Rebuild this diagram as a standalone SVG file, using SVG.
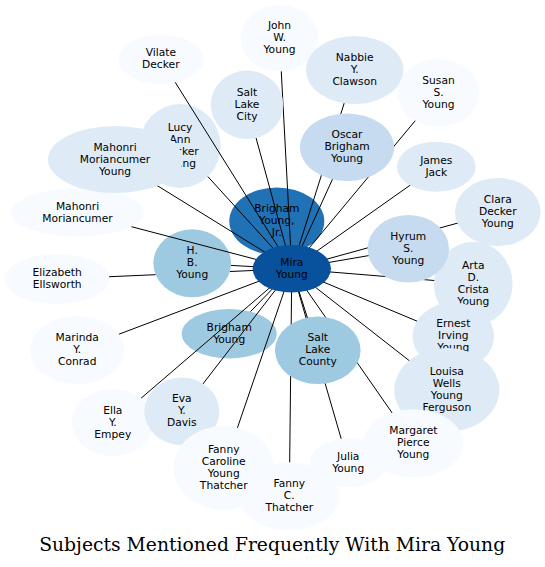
<svg xmlns="http://www.w3.org/2000/svg" width="545" height="567" viewBox="0 0 545 567">
<style>
  .n text { font-family: "DejaVu Sans", "Liberation Sans", sans-serif; font-size: 10.7px; text-anchor: middle; fill: #000; }
  .n ellipse { stroke: none; }
  .c0 { fill: #f7fbff; } .c1 { fill: #deebf7; } .c2 { fill: #c6dbef; }
  .c3 { fill: #9ecae1; } .c4 { fill: #2171b5; } .c5 { fill: #08519c; }
  #connectors path { stroke: #000; stroke-width: 1; fill: none; }
  .title { font-family: "DejaVu Serif", "Liberation Serif", serif; font-size: 18.5px; text-anchor: middle; fill: #000; }
</style>
<rect width="545" height="567" fill="#fff"/>

<!-- nodes drawn beneath the connectors -->
<g id="lucy" class="n"><ellipse class="c1" cx="180" cy="146" rx="40.7" ry="42"/><text x="180" y="131"><tspan x="180">Lucy</tspan><tspan x="180" dy="12">Ann</tspan><tspan x="180" dy="12">Decker</tspan><tspan x="180" dy="12">Young</tspan></text></g>
<g id="hb" class="n"><ellipse class="c3" cx="192.2" cy="263.3" rx="38.8" ry="34"/><text x="192.2" y="254.3"><tspan x="192.2">H.</tspan><tspan x="192.2" dy="12">B.</tspan><tspan x="192.2" dy="12">Young</tspan></text></g>
<g id="bj" class="n"><ellipse class="c4" cx="276.8" cy="221.2" rx="47.5" ry="33.8"/><text x="276.8" y="212.2"><tspan x="276.8">Brigham</tspan><tspan x="276.8" dy="12">Young,</tspan><tspan x="276.8" dy="12">Jr.</tspan></text></g>
<g id="by" class="n"><ellipse class="c3" cx="229.2" cy="333.7" rx="47.5" ry="24.7"/><text x="229.2" y="330.7"><tspan x="229.2">Brigham</tspan><tspan x="229.2" dy="12">Young</tspan></text></g>

<g id="connectors">
  <path d="M279.5,38.3 L291.8,268.8"/>
  <path d="M160.8,59.2 L291.8,268.8"/>
  <path d="M354.7,70 L291.8,268.8"/>
  <path d="M438.5,92.8 L291.8,268.8"/>
  <path d="M247,104.8 L291.8,268.8"/>
  <path d="M207.9,176.6 L291.8,268.8"/>
  <path d="M115,159.5 L291.8,268.8"/>
  <path d="M347,147.2 L291.8,268.8"/>
  <path d="M436.3,166.7 L291.8,268.8"/>
  <path d="M497.8,212 L291.8,268.8"/>
  <path d="M287.2,254.2 L291.8,268.8"/>
  <path d="M77.5,212.5 L291.8,268.8"/>
  <path d="M230.9,265.4 L291.8,268.8"/>
  <path d="M408.3,248.8 L291.8,268.8"/>
  <path d="M57.2,279 L155.6,274.7 M229.9,271.5 L291.8,268.8"/>
  <path d="M473.3,283.7 L291.8,268.8"/>
  <path d="M77.2,350 L291.8,268.8"/>
  <path d="M250.5,311.6 L291.8,268.8"/>
  <path d="M317.8,350.3 L291.8,268.8"/>
  <path d="M453.3,336.3 L291.8,268.8"/>
  <path d="M446.8,390 L291.8,268.8"/>
  <path d="M413.3,443.3 L291.8,268.8"/>
  <path d="M348.2,462.8 L291.8,268.8"/>
  <path d="M112.8,422.5 L291.8,268.8"/>
  <path d="M181.8,411.3 L291.8,268.8"/>
  <path d="M223.7,468 L291.8,268.8"/>
  <path d="M289.3,496.3 L291.8,268.8"/>
</g>

<g id="john" class="n"><ellipse class="c0" cx="279.5" cy="38.3" rx="38.8" ry="33.3"/><text x="279.5" y="29.3"><tspan x="279.5">John</tspan><tspan x="279.5" dy="12">W.</tspan><tspan x="279.5" dy="12">Young</tspan></text></g>
<g id="vilate" class="n"><ellipse class="c0" cx="160.8" cy="59.2" rx="42.5" ry="24.8"/><text x="160.8" y="56.2"><tspan x="160.8">Vilate</tspan><tspan x="160.8" dy="12">Decker</tspan></text></g>
<g id="nabbie" class="n"><ellipse class="c1" cx="354.7" cy="70" rx="48.7" ry="34"/><text x="354.7" y="61"><tspan x="354.7">Nabbie</tspan><tspan x="354.7" dy="12">Y.</tspan><tspan x="354.7" dy="12">Clawson</tspan></text></g>
<g id="susan" class="n"><ellipse class="c0" cx="438.5" cy="92.8" rx="40.8" ry="33.8"/><text x="438.5" y="83.8"><tspan x="438.5">Susan</tspan><tspan x="438.5" dy="12">S.</tspan><tspan x="438.5" dy="12">Young</tspan></text></g>
<g id="slcity" class="n"><ellipse class="c1" cx="247" cy="104.8" rx="36.3" ry="34.2"/><text x="247" y="95.8"><tspan x="247">Salt</tspan><tspan x="247" dy="12">Lake</tspan><tspan x="247" dy="12">City</tspan></text></g>
<g id="mm" class="n"><ellipse class="c0" cx="77.5" cy="212.5" rx="66.5" ry="24.2"/><text x="77.5" y="209.5"><tspan x="77.5">Mahonri</tspan><tspan x="77.5" dy="12">Moriancumer</tspan></text></g>
<g id="mmy" class="n"><ellipse class="c1" cx="115.5" cy="159.5" rx="67.5" ry="33.5"/><text x="115" y="150.5"><tspan x="115">Mahonri</tspan><tspan x="115" dy="12">Moriancumer</tspan><tspan x="115" dy="12">Young</tspan></text></g>
<g id="oscar" class="n"><ellipse class="c2" cx="347" cy="147.2" rx="47" ry="33.8"/><text x="347" y="138.2"><tspan x="347">Oscar</tspan><tspan x="347" dy="12">Brigham</tspan><tspan x="347" dy="12">Young</tspan></text></g>
<g id="james" class="n"><ellipse class="c1" cx="436.3" cy="166.7" rx="39.3" ry="25"/><text x="436.3" y="163.7"><tspan x="436.3">James</tspan><tspan x="436.3" dy="12">Jack</tspan></text></g>
<g id="clara" class="n"><ellipse class="c1" cx="497.8" cy="212" rx="42.8" ry="34"/><text x="497.8" y="203"><tspan x="497.8">Clara</tspan><tspan x="497.8" dy="12">Decker</tspan><tspan x="497.8" dy="12">Young</tspan></text></g>
<g id="arta" class="n"><ellipse class="c1" cx="473.3" cy="283.7" rx="39.3" ry="42"/><text x="473.3" y="268.7"><tspan x="473.3">Arta</tspan><tspan x="473.3" dy="12">D.</tspan><tspan x="473.3" dy="12">Crista</tspan><tspan x="473.3" dy="12">Young</tspan></text></g>
<g id="hyrum" class="n"><ellipse class="c2" cx="408.3" cy="248.8" rx="40.7" ry="33.8"/><text x="408.3" y="239.8"><tspan x="408.3">Hyrum</tspan><tspan x="408.3" dy="12">S.</tspan><tspan x="408.3" dy="12">Young</tspan></text></g>
<g id="elizabeth" class="n"><ellipse class="c0" cx="57.2" cy="279" rx="52.2" ry="25"/><text x="57.2" y="276"><tspan x="57.2">Elizabeth</tspan><tspan x="57.2" dy="12">Ellsworth</tspan></text></g>
<g id="marinda" class="n"><ellipse class="c0" cx="77.2" cy="350" rx="47.2" ry="34"/><text x="77.2" y="341"><tspan x="77.2">Marinda</tspan><tspan x="77.2" dy="12">Y.</tspan><tspan x="77.2" dy="12">Conrad</tspan></text></g>
<g id="slcounty" class="n"><ellipse class="c3" cx="317.8" cy="350.3" rx="42.8" ry="33.7"/><text x="317.8" y="341.3"><tspan x="317.8">Salt</tspan><tspan x="317.8" dy="12">Lake</tspan><tspan x="317.8" dy="12">County</tspan></text></g>
<g id="ernest" class="n"><ellipse class="c1" cx="453.3" cy="336.3" rx="40.7" ry="33.8"/><text x="453.3" y="327.3"><tspan x="453.3">Ernest</tspan><tspan x="453.3" dy="12">Irving</tspan><tspan x="453.3" dy="12">Young</tspan></text></g>
<g id="louisa" class="n"><ellipse class="c1" cx="446.8" cy="390" rx="52.5" ry="42"/><text x="446.8" y="375"><tspan x="446.8">Louisa</tspan><tspan x="446.8" dy="12">Wells</tspan><tspan x="446.8" dy="12">Young</tspan><tspan x="446.8" dy="12">Ferguson</tspan></text></g>
<g id="julia" class="n"><ellipse class="c0" cx="348.2" cy="462.8" rx="38.5" ry="24.5"/><text x="348.2" y="459.8"><tspan x="348.2">Julia</tspan><tspan x="348.2" dy="12">Young</tspan></text></g>
<g id="margaret" class="n"><ellipse class="c0" cx="413.3" cy="443.3" rx="50" ry="34"/><text x="413.3" y="434.3"><tspan x="413.3">Margaret</tspan><tspan x="413.3" dy="12">Pierce</tspan><tspan x="413.3" dy="12">Young</tspan></text></g>
<g id="ella" class="n"><ellipse class="c0" cx="112.8" cy="422.5" rx="41" ry="33.5"/><text x="112.8" y="413.5"><tspan x="112.8">Ella</tspan><tspan x="112.8" dy="12">Y.</tspan><tspan x="112.8" dy="12">Empey</tspan></text></g>
<g id="eva" class="n"><ellipse class="c1" cx="181.8" cy="411.3" rx="37.5" ry="33.7"/><text x="181.8" y="402.3"><tspan x="181.8">Eva</tspan><tspan x="181.8" dy="12">Y.</tspan><tspan x="181.8" dy="12">Davis</tspan></text></g>
<g id="fannyc" class="n"><ellipse class="c0" cx="289.3" cy="496.3" rx="50" ry="34"/><text x="289.3" y="487.3"><tspan x="289.3">Fanny</tspan><tspan x="289.3" dy="12">C.</tspan><tspan x="289.3" dy="12">Thatcher</tspan></text></g>
<g id="fcyt" class="n"><ellipse class="c0" cx="223.7" cy="468" rx="50.3" ry="42"/><text x="223.7" y="453"><tspan x="223.7">Fanny</tspan><tspan x="223.7" dy="12">Caroline</tspan><tspan x="223.7" dy="12">Young</tspan><tspan x="223.7" dy="12">Thatcher</tspan></text></g>
<g id="mira" class="n"><ellipse class="c5" cx="291.8" cy="268.8" rx="39.2" ry="23.8"/><text x="291.8" y="265.8"><tspan x="291.8">Mira</tspan><tspan x="291.8" dy="12">Young</tspan></text></g>

<text id="title" class="title" x="272.2" y="551" textLength="466" lengthAdjust="spacingAndGlyphs">Subjects Mentioned Frequently With Mira Young</text>
</svg>
